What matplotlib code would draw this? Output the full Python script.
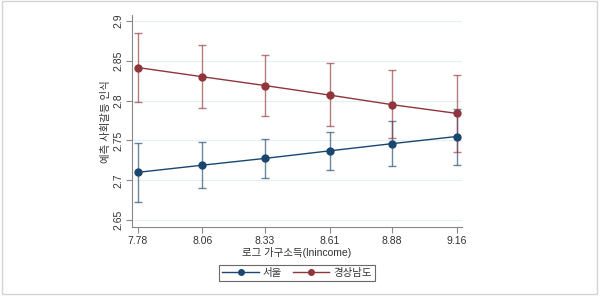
import matplotlib
matplotlib.use("Agg")
import matplotlib.pyplot as plt
from matplotlib.patches import Rectangle
from matplotlib.lines import Line2D

plt.rcParams['font.family'] = ['Liberation Sans', 'Noto Sans CJK KR', 'DejaVu Sans']

# data
income = [7.78, 8.06, 8.33, 8.61, 8.88, 9.16]
tick_labels = ['7.78', '8.06', '8.33', '8.61', '8.88', '9.16']

seoul = [2.710, 2.719, 2.7275, 2.737, 2.746, 2.755]
seoul_lo = [2.673, 2.690, 2.703, 2.7125, 2.7175, 2.719]
seoul_hi = [2.7467, 2.748, 2.752, 2.761, 2.774, 2.790]

gyeongnam = [2.8416, 2.830, 2.819, 2.807, 2.795, 2.784]
gyeongnam_lo = [2.798, 2.791, 2.781, 2.768, 2.753, 2.736]
gyeongnam_hi = [2.8846, 2.8696, 2.857, 2.847, 2.838, 2.8325]

y_ticks = [2.65, 2.7, 2.75, 2.8, 2.85, 2.9]
y_tick_labels = ['2.65', '2.7', '2.75', '2.8', '2.85', '2.9']

navy = '#1a476f'
maroon = '#90353b'

fig = plt.figure(figsize=(6, 2.98), dpi=100)
fig.patches.append(Rectangle((2/600, 4/298), 595/600, 293/298, transform=fig.transFigure,
                             fill=False, edgecolor='#d4d4d4', linewidth=1))

ax = fig.add_axes([0.2195, 0.2372, 0.5505, 0.7124])

for x, lo, hi in zip(income, seoul_lo, seoul_hi):
    ax.errorbar(x, (lo + hi) / 2, yerr=(hi - lo) / 2, fmt='none', ecolor=navy,
                alpha=0.65, elinewidth=1, capsize=3, capthick=1)
for x, lo, hi in zip(income, gyeongnam_lo, gyeongnam_hi):
    ax.errorbar(x, (lo + hi) / 2, yerr=(hi - lo) / 2, fmt='none', ecolor=maroon,
                alpha=0.65, elinewidth=1, capsize=3, capthick=1)

ax.plot(income, seoul, color=navy, marker='o', markersize=5, linewidth=1, label='서울')
ax.plot(income, gyeongnam, color=maroon, marker='o', markersize=5, linewidth=1, label='경상남도')

ax.set_xlim(7.754, 9.183)
ax.set_ylim(2.641, 2.9075)
ax.set_xticks(income)
ax.set_xticklabels(tick_labels, fontsize=7.5)
ax.set_yticks(y_ticks)
ax.set_yticklabels(y_tick_labels, fontsize=7.5, rotation=90, va='center')
ax.yaxis.grid(True, color='#e6f0f0', linewidth=0.8)
ax.set_axisbelow(True)

for s in ['top', 'right']:
    ax.spines[s].set_visible(False)
for s in ['left', 'bottom']:
    ax.spines[s].set_color('#888888')
    ax.spines[s].set_linewidth(0.8)
ax.tick_params(colors='#888888', length=4, width=0.8, labelcolor='#333333', pad=2)

ax.set_xlabel('로그 가구소득(lnincome)', fontsize=7.5, color='#333333', labelpad=1)
ax.set_ylabel('예측 사회갈등 인식', fontsize=7.5, color='#333333', labelpad=2)

handles = [Line2D([], [], color=navy, marker='o', markersize=4, linewidth=1),
           Line2D([], [], color=maroon, marker='o', markersize=4, linewidth=1)]
leg = fig.legend(handles, ['서울', '경상남도'], loc='center', bbox_to_anchor=(297/600, 1 - 273/298),
                 ncol=2, fontsize=7.5, frameon=True, fancybox=False, handlelength=3.5,
                 borderpad=0.3, columnspacing=1.0, handletextpad=0.4, labelcolor='#333333')
leg.get_frame().set_edgecolor('#444444')
leg.get_frame().set_linewidth(0.8)

fig.savefig('out.png', dpi=100)
